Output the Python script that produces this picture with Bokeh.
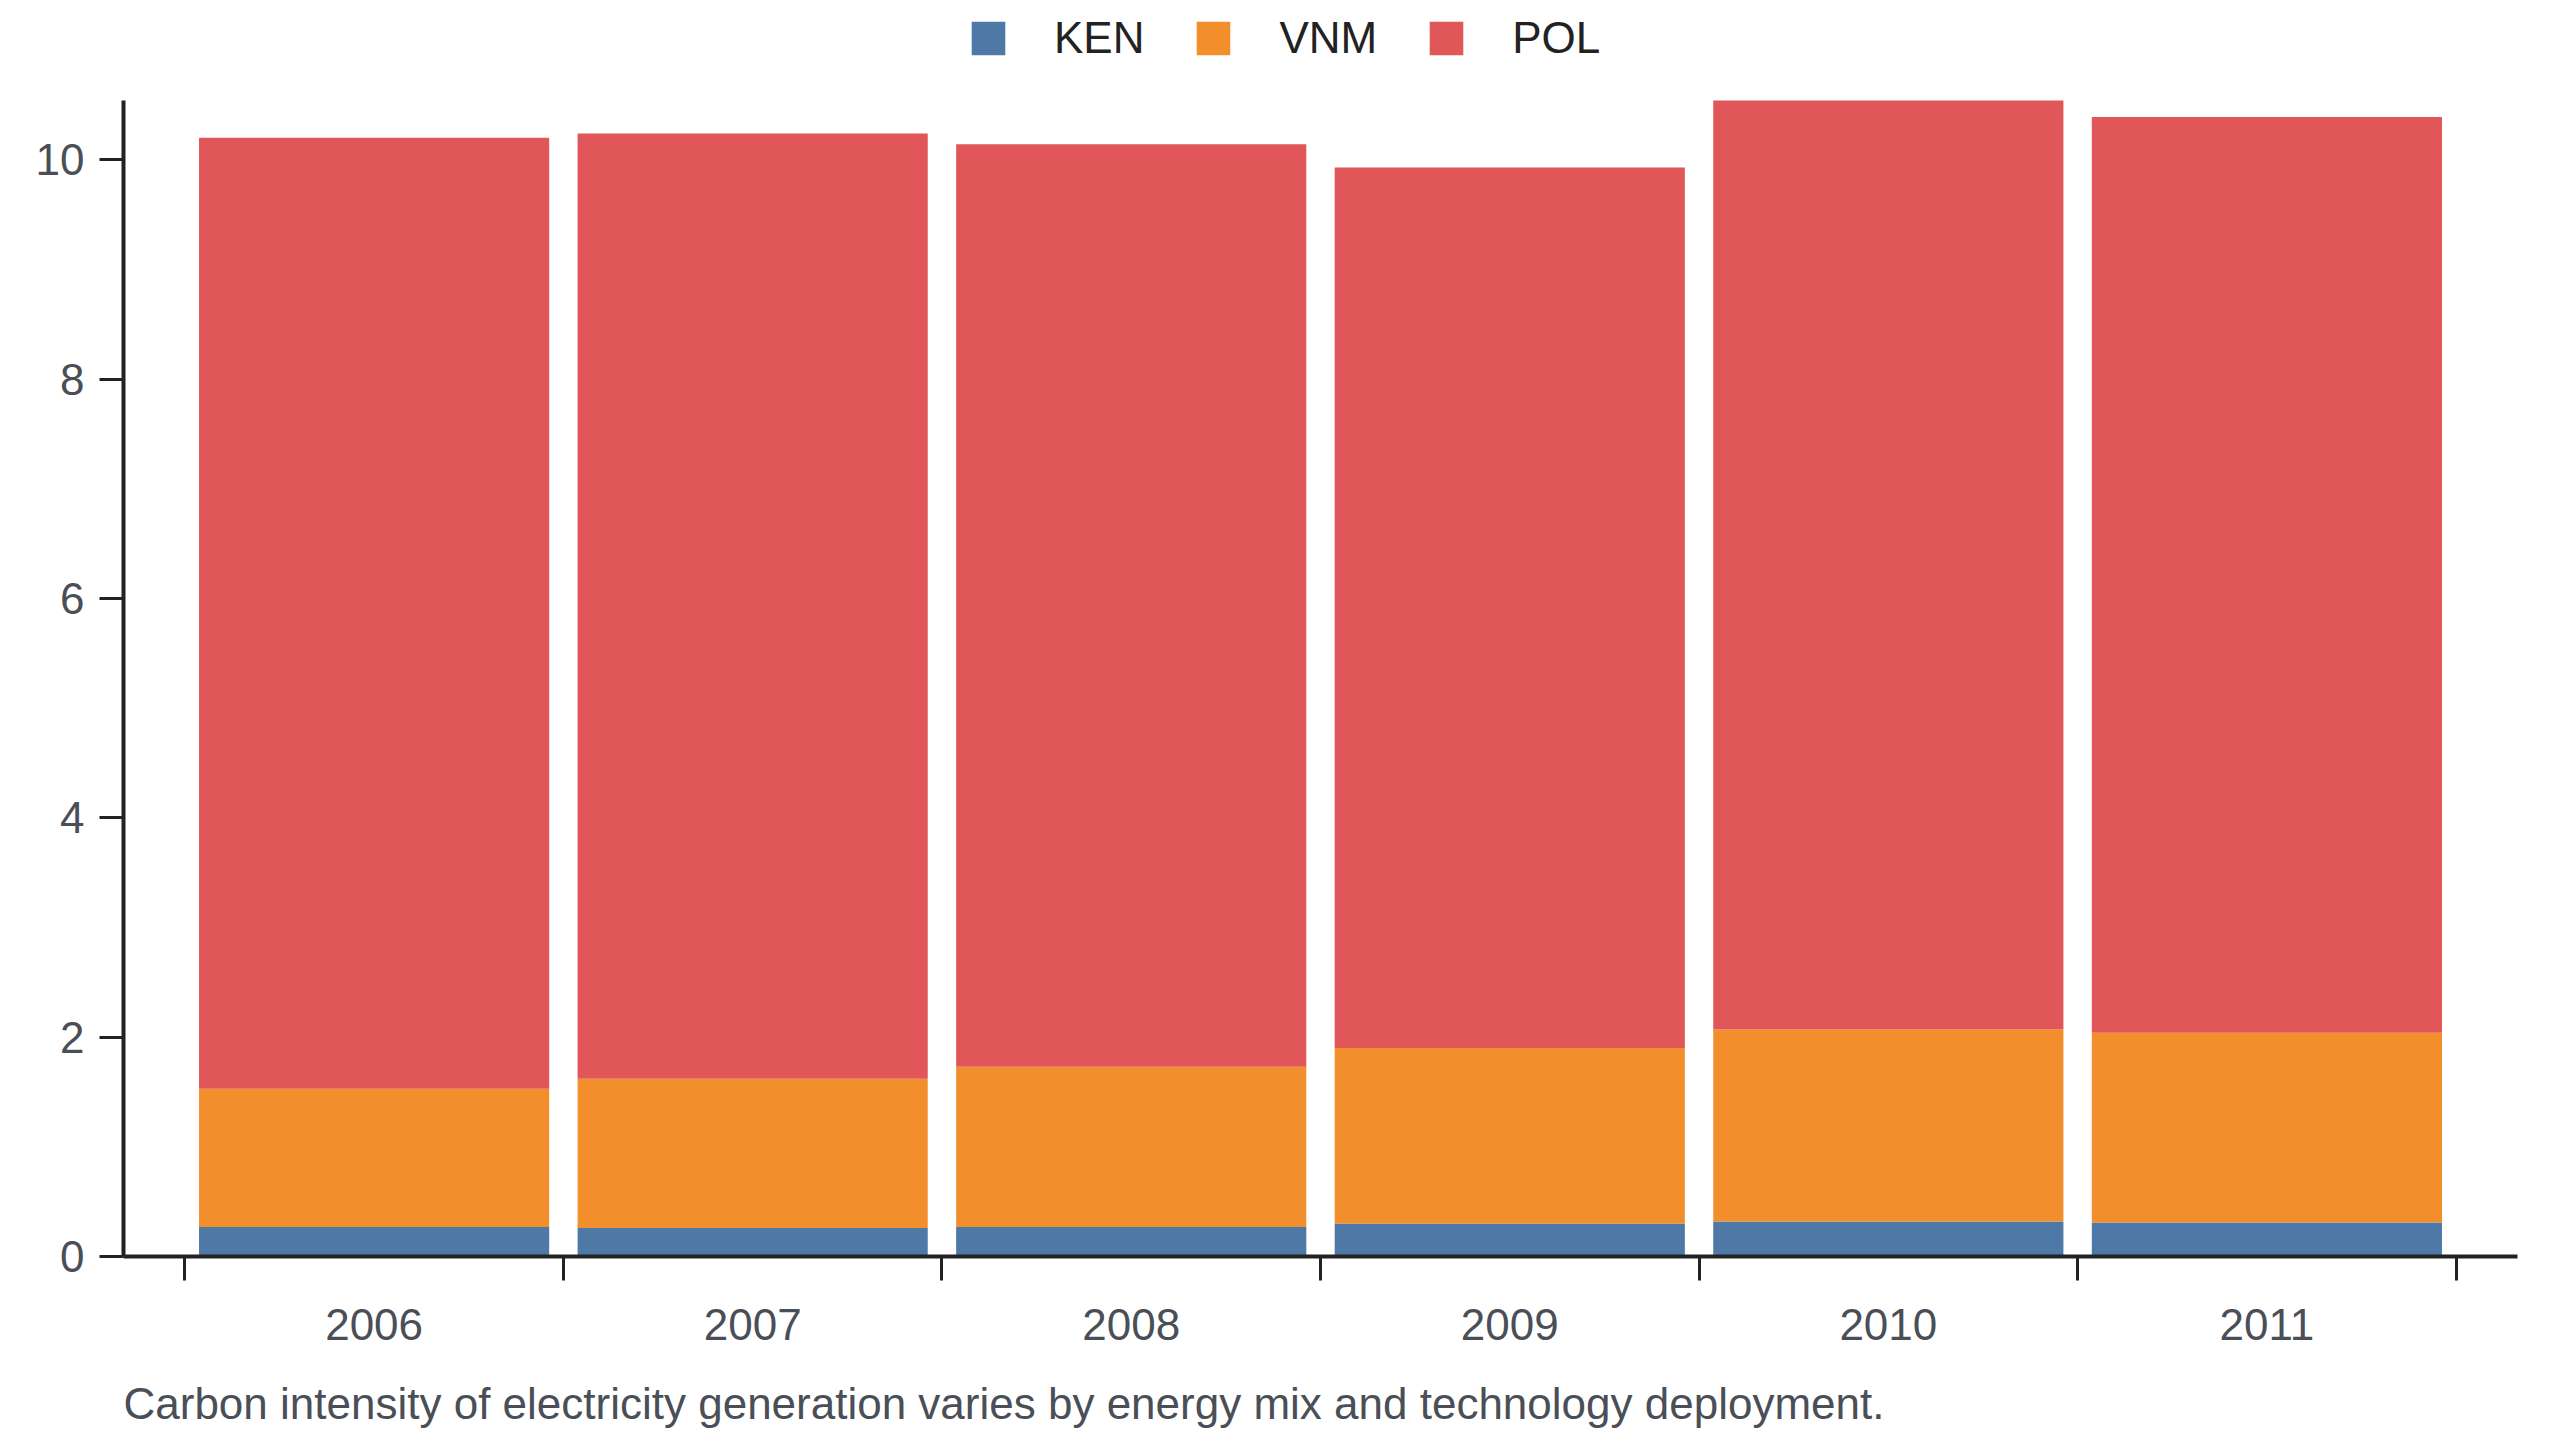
from bokeh.plotting import figure
from bokeh.models import (ColumnDataSource, FactorRange, Range1d, LinearAxis, CategoricalAxis,
                          FixedTicker, SingleIntervalTicker, Legend, LegendItem, Title)
from bokeh.embed import file_html
from bokeh.resources import INLINE

# ---- data ----
years = ["2006", "2007", "2008", "2009", "2010", "2011"]
series = ["KEN", "VNM", "POL"]
ken = [0.27, 0.26, 0.27, 0.30, 0.32, 0.31]
vnm = [1.26, 1.36, 1.46, 1.60, 1.75, 1.73]
pol = [8.67, 8.62, 8.41, 8.03, 8.47, 8.35]
colors = ["#4e79a7", "#f28e2b", "#e15759"]
caption = "Carbon intensity of electricity generation varies by energy mix and technology deployment."

FONT = "Liberation Sans"
TICK_COLOR = "#4a4f57"
AXIS_COLOR = "#222222"
pad = 0.162          # category padding at each end of the x axis
FRAME_H = 1256       # plot frame height in px (frame spans from the top of the figure)
TOP_GAP = 100        # px between figure top and the tallest bar (room for the legend)

totals = [a + b + c for a, b, c in zip(ken, vnm, pol)]
y_max = max(totals)
y_top = y_max * FRAME_H / (FRAME_H - TOP_GAP)

p = figure(width=2544, height=1432,
           x_range=FactorRange(factors=years, range_padding=pad, range_padding_units="absolute"),
           y_range=Range1d(0, y_top),
           output_backend="svg", toolbar_location=None,
           x_axis_location=None, y_axis_location=None,
           min_border_left=123, min_border_right=27, min_border_top=0, min_border_bottom=0)
p.outline_line_color = None
p.xgrid.grid_line_color = None
p.ygrid.grid_line_color = None
p.background_fill_color = "white"
p.border_fill_color = "white"

src = ColumnDataSource(dict(year=years, KEN=ken, VNM=vnm, POL=pol))
rs = p.vbar_stack(series, x="year", width=0.925, fill_color=colors, line_color=None, source=src)


def spacer(size):
    ax = LinearAxis(ticker=FixedTicker(ticks=[0], minor_ticks=[]), major_label_overrides={0: ""})
    ax.axis_line_alpha = 0
    ax.major_tick_line_alpha = 0
    ax.minor_tick_line_color = None
    ax.major_tick_out = size
    ax.major_tick_in = 0
    ax.major_label_standoff = 0
    ax.major_label_text_font_size = "1px"
    return ax


# y axis (line limited to the data extent)
yaxis = LinearAxis(ticker=SingleIntervalTicker(interval=2, num_minor_ticks=0), bounds=(0, y_max))
yaxis.axis_line_color = AXIS_COLOR
yaxis.axis_line_width = 4
yaxis.major_tick_line_color = AXIS_COLOR
yaxis.major_tick_line_width = 3
yaxis.major_tick_out = 24
yaxis.major_tick_in = 0
yaxis.minor_tick_line_color = None
yaxis.major_label_standoff = 15
yaxis.major_label_text_font = FONT
yaxis.major_label_text_font_size = "44px"
yaxis.major_label_text_color = TICK_COLOR
p.add_layout(yaxis, "left")

# x boundary ticks (category edges, in the factor range's synthetic coordinates)
nb = len(years) + 1
bx = LinearAxis(ticker=FixedTicker(ticks=list(range(nb)), minor_ticks=[]),
                major_label_overrides={i: "" for i in range(nb)})
bx.axis_line_color = AXIS_COLOR
bx.axis_line_width = 4
bx.major_tick_line_color = AXIS_COLOR
bx.major_tick_line_width = 3
bx.major_tick_out = 24
bx.major_tick_in = 0
bx.minor_tick_line_color = None
bx.major_label_standoff = 0
bx.major_label_text_font_size = "1px"
p.add_layout(bx, "below")

# category labels axis
cx = CategoricalAxis()
cx.axis_line_color = None
cx.major_tick_line_color = None
cx.major_tick_out = 0
cx.major_tick_in = 0
cx.minor_tick_line_color = None
cx.major_label_standoff = 28
cx.major_label_text_font = FONT
cx.major_label_text_font_size = "44px"
cx.major_label_text_color = TICK_COLOR
p.add_layout(cx, "below")

p.add_layout(spacer(29), "below")

# caption
cap = Title(text=caption, align="left", text_font=FONT, text_font_size="44px",
            text_font_style="normal", text_color=TICK_COLOR)
p.add_layout(cap, "below")

# legend (inside the frame's top margin)
legend = Legend(items=[LegendItem(label=s, renderers=[r]) for s, r in zip(series, rs)],
                location=(844, FRAME_H - 63), orientation="horizontal")
legend.border_line_color = None
legend.background_fill_alpha = 0
legend.padding = 0
legend.margin = 0
legend.spacing = 48
legend.label_standoff = 45
legend.glyph_width = 42
legend.glyph_height = 42
legend.label_text_font = FONT
legend.label_text_font_size = "44px"
legend.label_text_color = "#222222"
p.add_layout(legend)

open("out.html", "w").write(file_html(p, INLINE))
